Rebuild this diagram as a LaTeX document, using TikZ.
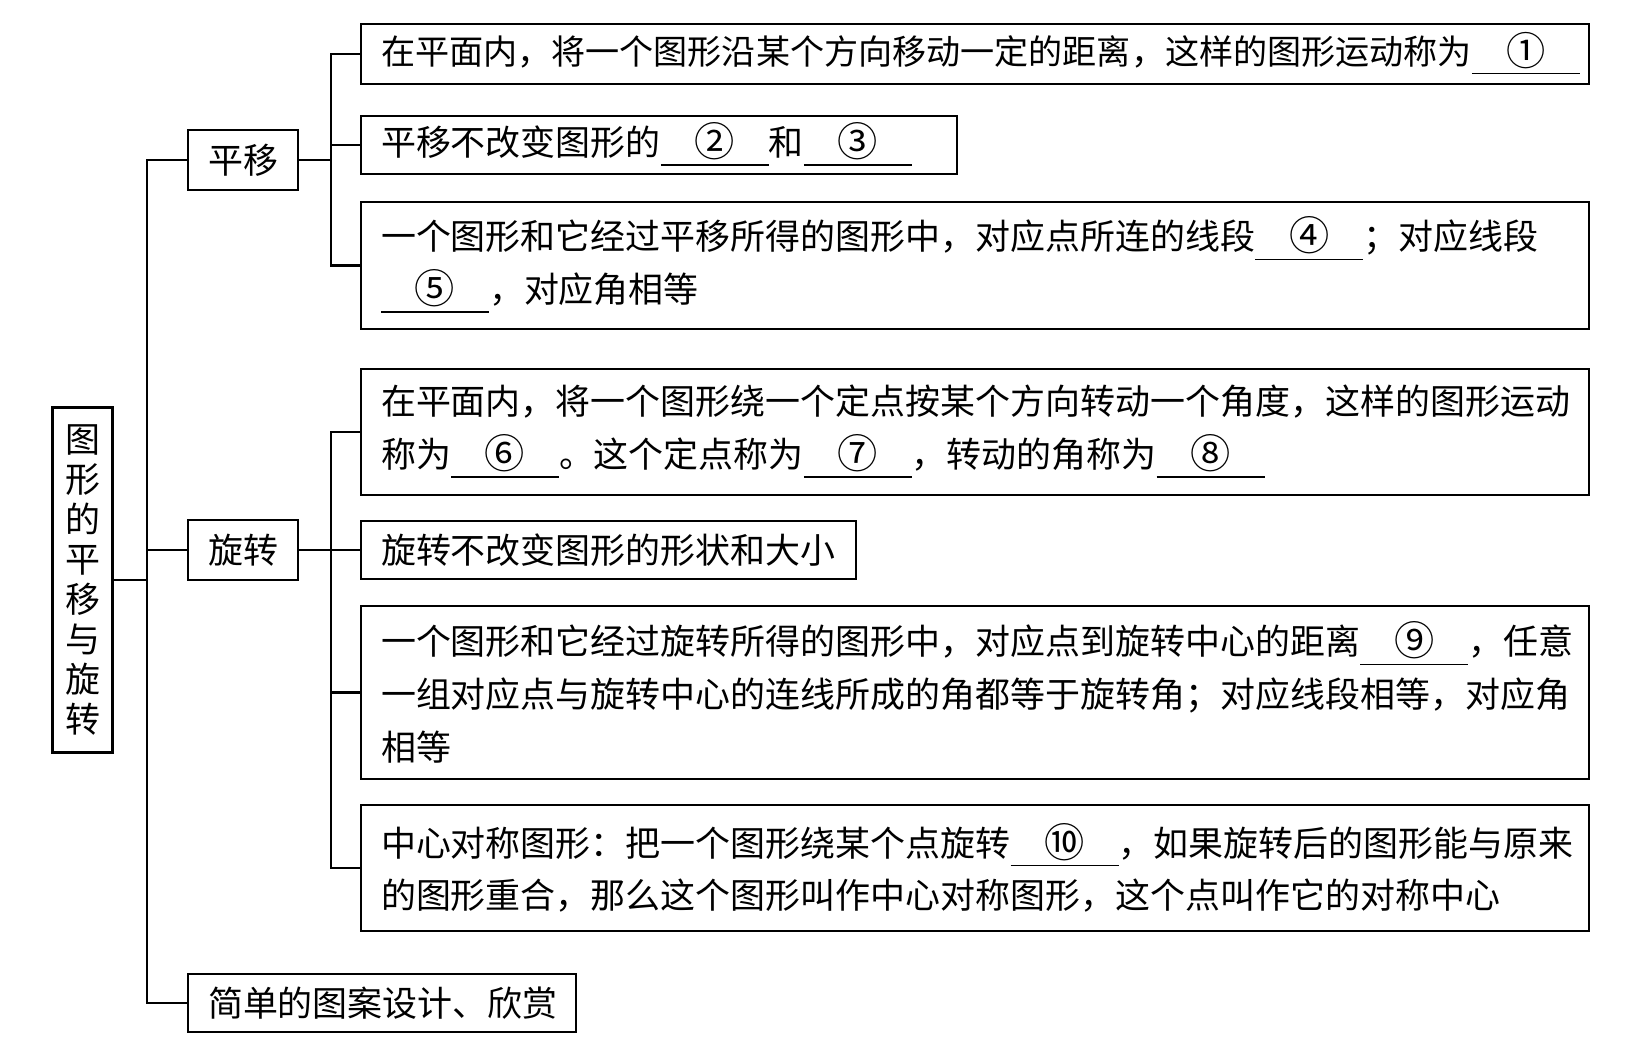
\documentclass[tikz,border=0pt]{standalone}
\usepackage{tikz}
\usepackage{graphicx}
\usepackage{fontspec}
\newfontfamily\cjk{Noto Sans CJK SC}
\newcommand\kong[1]{\underline{\makebox[1.08cm]{\raisebox{-0.3pt}{\scalebox{1.15}{#1}}}}}

\begin{document}
\begin{tikzpicture}[line width=0.6pt, node font=\cjk\fontsize{9.95}{15}\selectfont,
	hop/.style={draw, rectangle, inner xsep=0.2cm, inner ysep=0pt, anchor=west, align=left},
	nhanh/.style={draw, rectangle, inner sep=0pt, minimum width=1.1cm, minimum height=0.6cm, anchor=west}]
			\useasboundingbox (0,0) rectangle (16.48,-10.52);
			
			\node[draw, inner sep=0pt, minimum width=0.6cm, minimum height=3.45cm, align=center, font=\cjk\fontsize{9.95}{11.4}\selectfont] (goc) at (0.825,-5.80) {图\\形\\的\\平\\移\\与\\旋\\转};
			\node[nhanh] (pingyi) at (1.87,-1.60) {平移};
			\node[nhanh] (xuanzhuan) at (1.87,-5.50) {旋转};
			\node[hop, text width=3.48cm, minimum height=0.58cm] (jiandan) at (1.87,-10.03) {简单的图案设计、欣赏};
			
			\node[hop, text width=11.88cm, minimum height=0.60cm, font=\cjk\fontsize{9.7}{15}\selectfont] (a1) at (3.60,-0.54) {在平面内，将一个图形沿某个方向移动一定的距离，这样的图形运动称为\kong{①}};
			\node[hop, text width=5.56cm, minimum height=0.58cm] (a2) at (3.60,-1.45) {平移不改变图形的\kong{②}和\kong{③}};
			\node[hop, text width=11.88cm, minimum height=1.27cm] (a3) at (3.60,-2.655) {一个图形和它经过平移所得的图形中，对应点所连的线段\kong{④}；对应线段\\\kong{⑤}，对应角相等};
			
			\node[hop, text width=11.88cm, minimum height=1.26cm] (b1) at (3.60,-4.32) {在平面内，将一个图形绕一个定点按某个方向转动一个角度，这样的图形运动\\称为\kong{⑥}。这个定点称为\kong{⑦}，转动的角称为\kong{⑧}};
			\node[hop, text width=4.55cm, minimum height=0.58cm] (b2) at (3.60,-5.50) {旋转不改变图形的形状和大小};
			\node[hop, text width=11.88cm, minimum height=1.73cm] (b3) at (3.60,-6.925) {\mbox{一个图形和它经过旋转所得的图形中，对应点到旋转中心的距离\kong{⑨}，任意}\\一组对应点与旋转中心的连线所成的角都等于旋转角；对应线段相等，对应角\\相等};
			\node[hop, text width=11.88cm, minimum height=1.26cm] (b4) at (3.60,-8.68) {中心对称图形：把一个图形绕某个点旋转\kong{⑩}，如果旋转后的图形能与原来\\的图形重合，那么这个图形叫作中心对称图形，这个点叫作它的对称中心};
			
			\coordinate (t1) at (1.47,-5.80);
			\draw (goc.east) -- (t1);
			\draw (pingyi.west) -| (t1) |- (jiandan.west);
			\draw (t1 |- xuanzhuan.west) -- (xuanzhuan.west);
			
			\coordinate (t2) at (3.31,-1.60);
			\draw (pingyi.east) -- (t2);
			\draw (a1.west) -| (t2) |- (a3.west);
			\draw (a2.west) -- (a2.west -| t2);
			
			\coordinate (t3) at (3.31,-5.50);
			\draw (xuanzhuan.east) -- (b2.west);
			\draw (b1.west) -| (t3) |- (b4.west);
			\draw (b3.west) -- (b3.west -| t3);
		\end{tikzpicture}
\end{document}
